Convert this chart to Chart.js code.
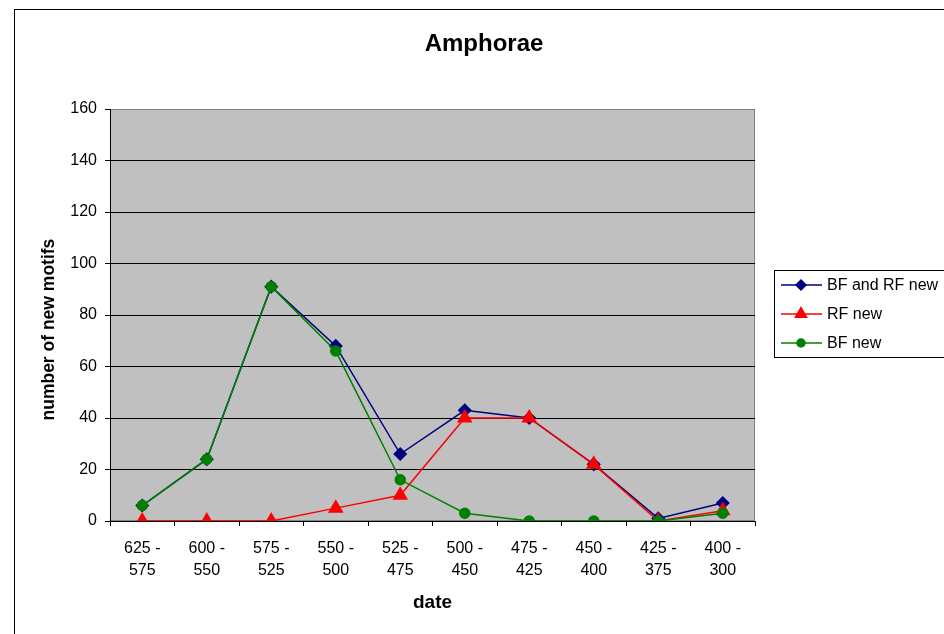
<!DOCTYPE html>
<html>
<head>
<meta charset="utf-8">
<script src="https://cdn.jsdelivr.net/npm/chart.js@4.4.1/dist/chart.umd.min.js"></script>
<style>
  html, body { margin: 0; padding: 0; background: #fff; overflow: hidden; }
  #wrap { width: 960px; height: 650px; position: relative; }
</style>
</head>
<body>
<div id="wrap"><canvas id="myChart"></canvas></div>
<script>
// data
const categories = [
  ['625 -', '575'], ['600 -', '550'], ['575 -', '525'], ['550 -', '500'], ['525 -', '475'],
  ['500 -', '450'], ['475 -', '425'], ['450 -', '400'], ['425 -', '375'], ['400 -', '300']
]
const bfAndRfNew = [6, 24, 91, 68, 26, 43, 40, 22, 1, 7]
const rfNew = [0, 0, 0, 5, 10, 40, 40, 22, 0, 4]
const bfNew = [6, 24, 91, 66, 16, 3, 0, 0, 0, 3]
const yTicks = [0, 20, 40, 60, 80, 100, 120, 140, 160]

const FONT = '"Liberation Sans", Arial, sans-serif'
Chart.defaults.font.family = FONT
Chart.defaults.font.size = 16
Chart.defaults.color = '#000'

const series = [
  { label: 'BF and RF new', data: bfAndRfNew, color: '#000080', style: 'rectRot', radius: 6, order: 3 },
  { label: 'RF new', data: rfNew, color: '#ff0000', style: 'triangle', radius: 7.5, order: 2 },
  { label: 'BF new', data: bfNew, color: '#008000', style: 'circle', radius: 5, order: 1 }
]

const frame = {
  id: 'frame',
  beforeDraw(chart) {
    const { ctx, chartArea: a } = chart
    ctx.save()
    ctx.fillStyle = '#c0c0c0'
    ctx.fillRect(a.left, a.top, a.right - a.left, a.bottom - a.top)
    ctx.strokeStyle = '#808080'
    ctx.lineWidth = 1
    ctx.strokeRect(a.left + 0.5, a.top + 0.5, a.right - a.left - 1, a.bottom - a.top - 1)
    ctx.restore()
  },
  afterDraw(chart) {
    const { ctx } = chart
    ctx.save()
    // outer chart border
    ctx.strokeStyle = '#000'
    ctx.lineWidth = 1
    ctx.strokeRect(14.5, 9.5, 941, 636)
    // title
    ctx.fillStyle = '#000'
    ctx.font = 'bold 24px ' + FONT
    ctx.textAlign = 'center'
    ctx.textBaseline = 'middle'
    ctx.fillText('Amphorae', 484, 44)
    // legend
    ctx.strokeRect(774.5, 270.5, 176, 87)
    ctx.font = '16px ' + FONT
    ctx.textAlign = 'left'
    series.forEach((s, i) => {
      const y = 285 + i * 29
      ctx.strokeStyle = s.color
      ctx.lineWidth = 1.5
      ctx.beginPath()
      ctx.moveTo(781, y)
      ctx.lineTo(822, y)
      ctx.stroke()
      ctx.fillStyle = s.color
      Chart.helpers.drawPoint(ctx, { pointStyle: s.style, radius: s.radius - 1, borderWidth: 1 }, 801, y)
      ctx.fillStyle = '#000'
      ctx.fillText(s.label, 827, y + 1)
    })
    ctx.restore()
  }
}

new Chart(document.getElementById('myChart'), {
  type: 'line',
  data: {
    labels: categories,
    datasets: series.map(s => ({
      label: s.label,
      data: s.data,
      borderColor: s.color,
      backgroundColor: s.color,
      borderWidth: 1.5,
      pointStyle: s.style,
      pointRadius: s.radius,
      pointBorderColor: s.color,
      pointBackgroundColor: s.color,
      order: s.order,
      tension: 0
    }))
  },
  options: {
    responsive: true,
    maintainAspectRatio: false,
    animation: false,
    layout: { padding: { top: 109, right: 205, left: 0, bottom: 0 } },
    plugins: {
      legend: { display: false },
      title: { display: false },
      tooltip: { enabled: false }
    },
    scales: {
      x: {
        offset: true,
        grid: { offset: true, drawOnChartArea: false, drawTicks: true, tickLength: 5, color: '#000', tickColor: '#000' },
        border: { color: '#000', width: 1 },
        ticks: { maxRotation: 0, autoSkip: false, padding: 11, font: { size: 16, lineHeight: 1.4 } },
        title: { display: true, text: 'date', font: { size: 19, weight: 'bold' }, padding: { top: 0, bottom: 36 } },
        afterFit(scale) { scale.height = 129 }
      },
      y: {
        min: 0,
        max: 160,
        afterBuildTicks(scale) { scale.ticks = yTicks.map(v => ({ value: v })) },
        grid: {
          color: ctx => (ctx.tick && ctx.tick.value === 160 ? '#808080' : '#000'),
          tickColor: '#000',
          tickLength: 5,
          lineWidth: 1
        },
        border: { color: '#000', width: 1 },
        ticks: { padding: 8, font: { size: 16 } },
        title: { display: true, text: 'number of new motifs      ', font: { size: 17.5, weight: 'bold' }, padding: { top: 39, bottom: 0 } },
        afterFit(scale) { scale.width = 110 }
      }
    }
  },
  plugins: [frame]
})
</script>
</body>
</html>
